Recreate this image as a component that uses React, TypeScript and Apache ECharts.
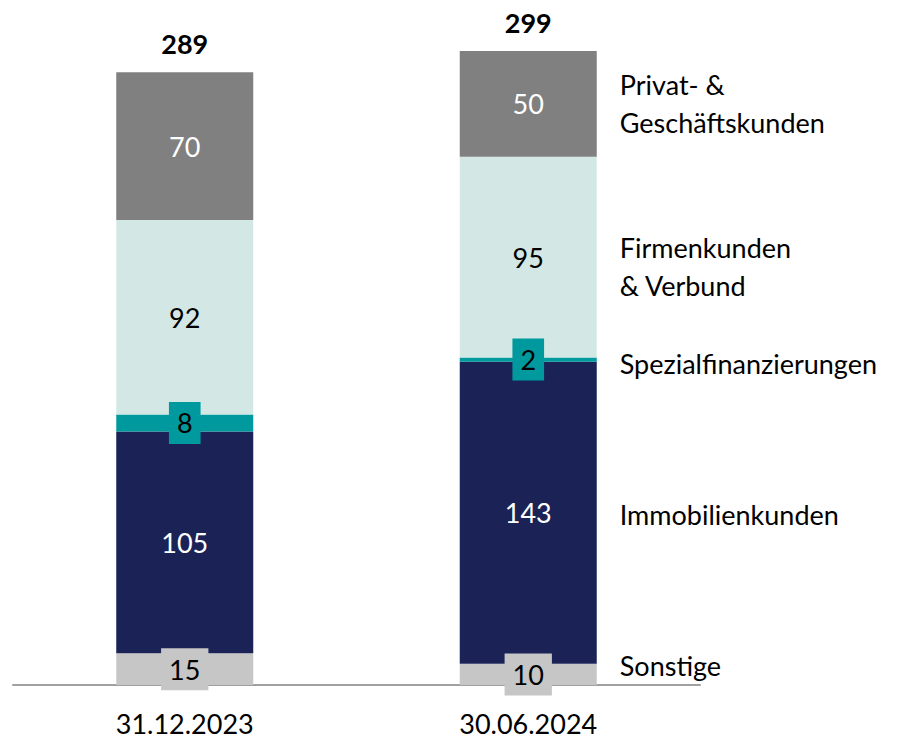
import React, { useEffect, useRef } from "react";
import * as echarts from "echarts";

const categories = ["31.12.2023", "30.06.2024"];
const seriesNames = [
  "Sonstige",
  "Immobilienkunden",
  "Spezialfinanzierungen",
  "Firmenkunden\n& Verbund",
  "Privat- &\nGeschäftskunden",
];
const sonstige = [15, 10];
const immobilien = [105, 143];
const spezial = [8, 2];
const firmen = [92, 95];
const privat = [70, 50];
const totals = [289, 299];

const colors = ["#c6c6c6", "#1b2256", "#009a9e", "#d3e8e5", "#808080"];
const labelColors = ["#000000", "#ffffff", "#000000", "#000000", "#ffffff"];
const boxed = [true, false, true, false, false];
const nameOffsets = [[0, -9], [0, 2], [0, 4], [0, 9], [0, 0]];

const FONT = "Lato, 'Open Sans', sans-serif";
const FS = 27;

export default function App() {
  const ref = useRef<HTMLDivElement>(null);
  useEffect(() => {
    document.body.style.margin = "0";
    const chart = echarts.init(ref.current!, undefined, { renderer: "svg" });
    const values = [sonstige, immobilien, spezial, firmen, privat];
    const main: any[] = values.map((vals, k) => ({
      name: seriesNames[k],
      type: "bar",
      stack: "main",
      barWidth: 137,
      barGap: "-100%",
      data: vals,
      itemStyle: { color: colors[k] },
      label: {
        show: true,
        position: "inside",
        color: labelColors[k],
        fontFamily: FONT,
        fontSize: FS,
        ...(boxed[k]
          ? { backgroundColor: colors[k], padding: [8, 8, 7, 8] }
          : {}),
      },
      emphasis: { disabled: true },
    }));
    main.push({
      name: "Summe",
      type: "bar",
      stack: "main",
      barWidth: 137,
      data: totals.map(() => 0),
      itemStyle: { color: "transparent" },
      label: {
        show: true,
        position: "top",
        distance: 15,
        formatter: (p: any) => String(totals[p.dataIndex]),
        color: "#000",
        fontWeight: "bold",
        fontFamily: FONT,
        fontSize: FS,
      },
    });
    const overlay = values.map((vals, k) => ({
      name: seriesNames[k] + " ",
      type: "bar",
      stack: "names",
      barWidth: 137,
      barGap: "-100%",
      itemStyle: { color: "transparent" },
      data: vals.map((v, i) =>
        i === vals.length - 1
          ? {
              value: v,
              label: {
                show: true,
                position: "right",
                distance: 23,
                offset: nameOffsets[k],
                formatter: seriesNames[k],
                color: "#000",
                fontFamily: FONT,
                fontSize: FS,
                lineHeight: 38,
                align: "left",
              },
            }
          : { value: v, label: { show: false } }
      ),
      emphasis: { disabled: true },
      z: 5,
    }));
    chart.setOption({
      animation: false,
      grid: { left: 13, width: 687, top: 51, bottom: 57, containLabel: false },
      xAxis: {
        type: "category",
        data: categories,
        axisLine: { lineStyle: { color: "#a0a0a0", width: 2 } },
        axisTick: { show: false },
        axisLabel: {
          color: "#000",
          fontFamily: FONT,
          fontSize: FS,
          margin: 25,
        },
      },
      yAxis: { type: "value", min: 0, max: 300, show: false },
      series: [...main, ...overlay],
    });
    return () => chart.dispose();
  }, []);
  return <div ref={ref} style={{ width: 909, height: 742 }} />;
}
